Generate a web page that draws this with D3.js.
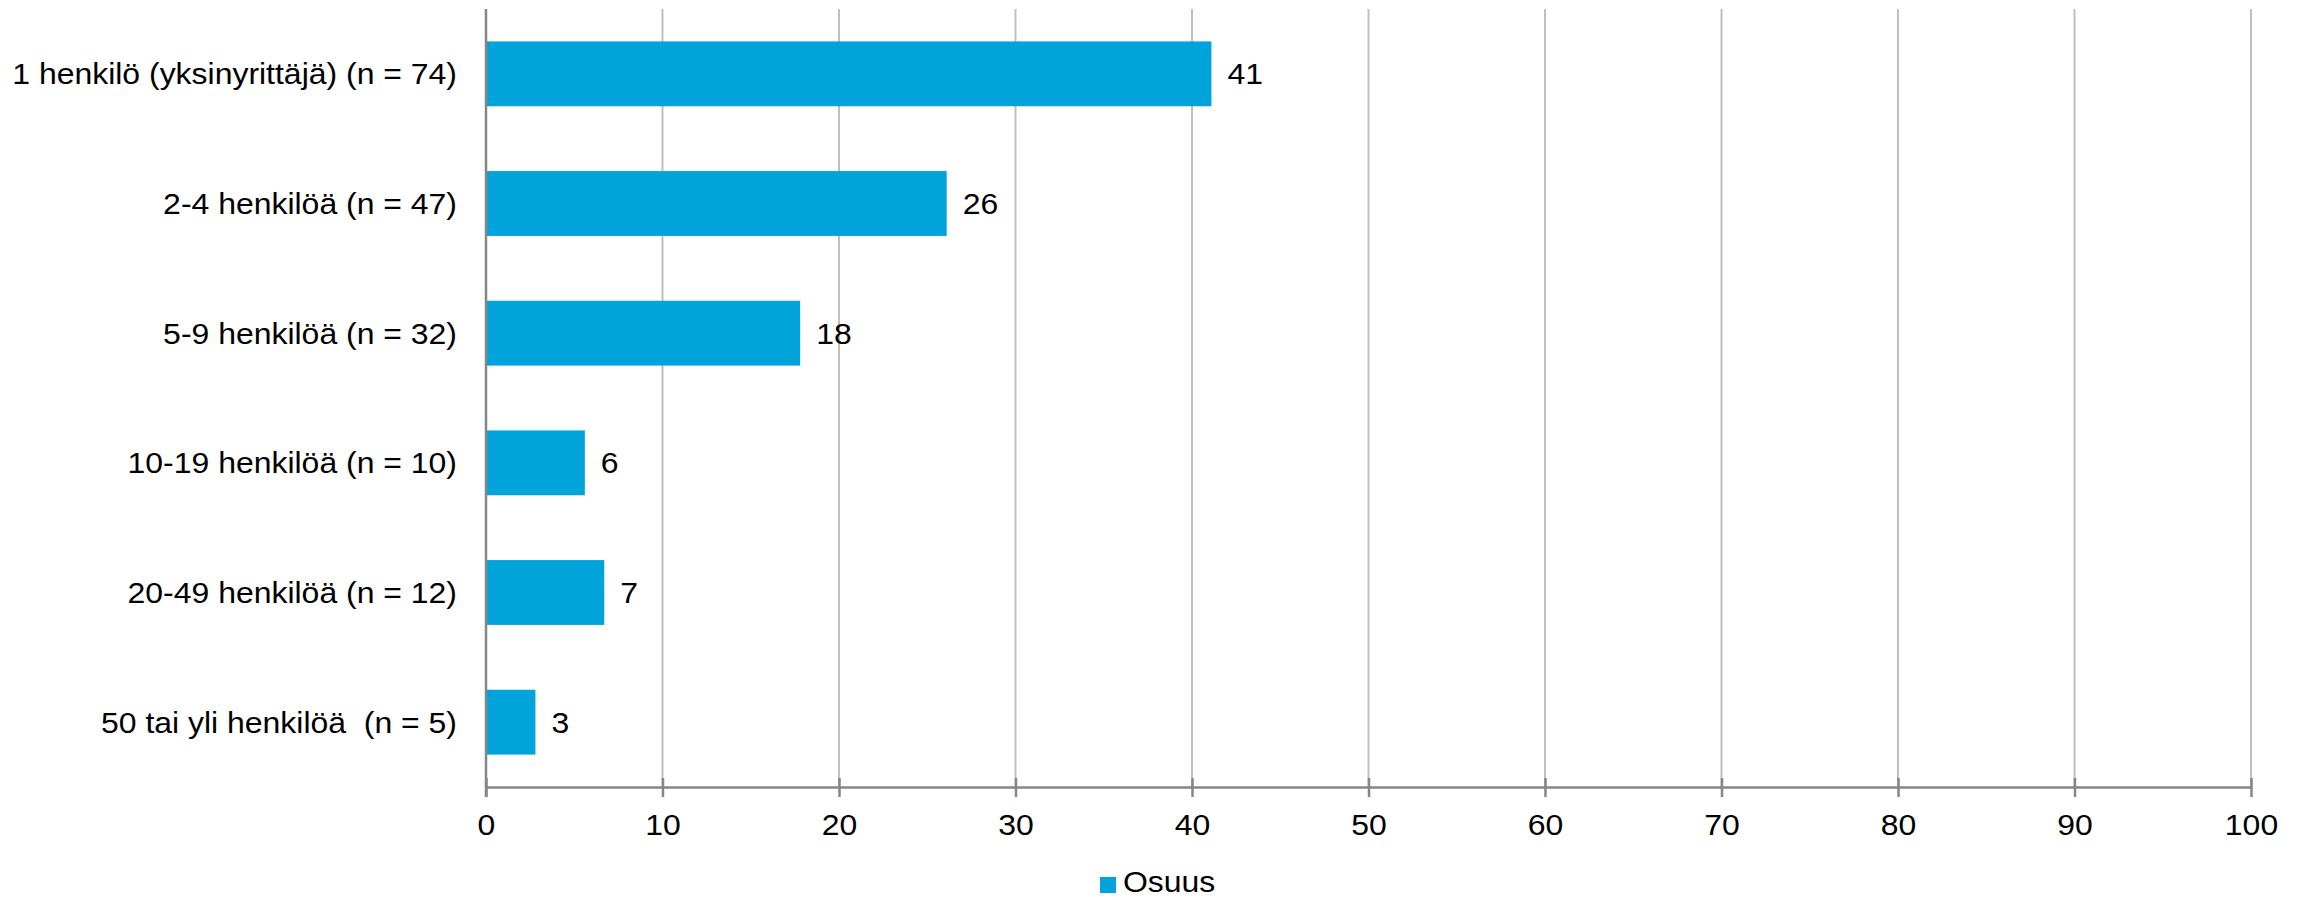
<!DOCTYPE html>
<html>
<head>
<meta charset="utf-8">
<script src="https://cdn.jsdelivr.net/npm/d3@7"></script>
<style>
  html, body { margin: 0; padding: 0; background: #fff; }
  svg { display: block; }
  text { font-family: "Liberation Sans", Arial, sans-serif; fill: #000; }
</style>
</head>
<body>
<svg id="chart" width="2305" height="900"></svg>
<script>
const categories = [
  "1 henkilö (yksinyrittäjä) (n = 74)",
  "2-4 henkilöä (n = 47)",
  "5-9 henkilöä (n = 32)",
  "10-19 henkilöä (n = 10)",
  "20-49 henkilöä (n = 12)",
  "50 tai yli henkilöä  (n = 5)"
];
const values = [41.1, 26.1, 17.8, 5.6, 6.7, 2.8];
const valueLabels = ["41", "26", "18", "6", "7", "3"];
const xTicks = [0, 10, 20, 30, 40, 50, 60, 70, 80, 90, 100];
const seriesName = "Osuus";

(function () {
const svg = d3.select("#chart");
const plotLeft = 486, plotRight = 2251, plotTop = 9, plotBottom = 787;
const barColor = "#00A3DA";
const FS = "30px", SX = 1.065;

const x = d3.scaleLinear().domain([0, 100]).range([plotLeft, plotRight]);
const y = d3.scaleBand().domain(categories).range([plotTop, plotBottom])
  .paddingInner(0.5).paddingOuter(0.25);

// gridlines
svg.append("g").selectAll("line").data(xTicks.filter(t => t > 0)).join("line")
  .attr("x1", d => x(d)).attr("x2", d => x(d))
  .attr("y1", plotTop).attr("y2", plotBottom)
  .attr("stroke", "#BFBFBF").attr("stroke-width", 2);

// bars
svg.append("g").selectAll("rect").data(values).join("rect")
  .attr("x", x(0))
  .attr("y", (d, i) => y(categories[i]))
  .attr("width", d => x(d) - x(0))
  .attr("height", y.bandwidth())
  .attr("fill", barColor);

// x axis
const xAxis = d3.axisBottom(x).tickValues(xTicks).tickSize(0).tickFormat(d3.format("d"));
const gx = svg.append("g").attr("transform", `translate(0,${plotBottom})`).call(xAxis);
gx.select(".domain").attr("stroke", "#868686").attr("stroke-width", 2.5);
gx.selectAll(".tick line").remove();
gx.selectAll(".tick").append("line")
  .attr("y1", -9).attr("y2", 10)
  .attr("stroke", "#868686").attr("stroke-width", 2.5);
gx.selectAll(".tick text")
  .attr("y", 0).attr("dy", 0)
  .attr("transform", `translate(0,48) scale(${SX},1)`)
  .style("font-size", FS)
  .style("font-family", '"Liberation Sans", Arial, sans-serif')
  .attr("fill", "#000");

// y axis
const yAxis = d3.axisLeft(y).tickSize(0).tickPadding(0);
const gy = svg.append("g").attr("transform", `translate(${plotLeft},0)`).call(yAxis);
gy.select(".domain").remove();
gy.append("line").attr("x1", 0).attr("x2", 0).attr("y1", plotTop).attr("y2", plotBottom + 10)
  .attr("stroke", "#868686").attr("stroke-width", 2.5);
gy.selectAll(".tick text")
  .attr("x", 0).attr("dy", "0.35em")
  .attr("transform", `translate(-29,0) scale(${SX},1)`)
  .style("font-size", FS)
  .style("font-family", '"Liberation Sans", Arial, sans-serif')
  .style("white-space", "pre")
  .attr("fill", "#000");

// value labels
svg.append("g").selectAll("text").data(values).join("text")
  .attr("transform", (d, i) => `translate(${x(d) + 16},${y(categories[i]) + y.bandwidth() / 2}) scale(${SX},1)`)
  .attr("dy", "0.35em")
  .style("font-size", FS)
  .text((d, i) => valueLabels[i]);

// legend
const lg = svg.append("g");
lg.append("rect").attr("x", 1100).attr("y", 877).attr("width", 16).attr("height", 16).attr("fill", barColor);
lg.append("text").attr("transform", `translate(1123,892) scale(${SX},1)`)
  .style("font-size", FS).text(seriesName);
})();
</script>
</body>
</html>
